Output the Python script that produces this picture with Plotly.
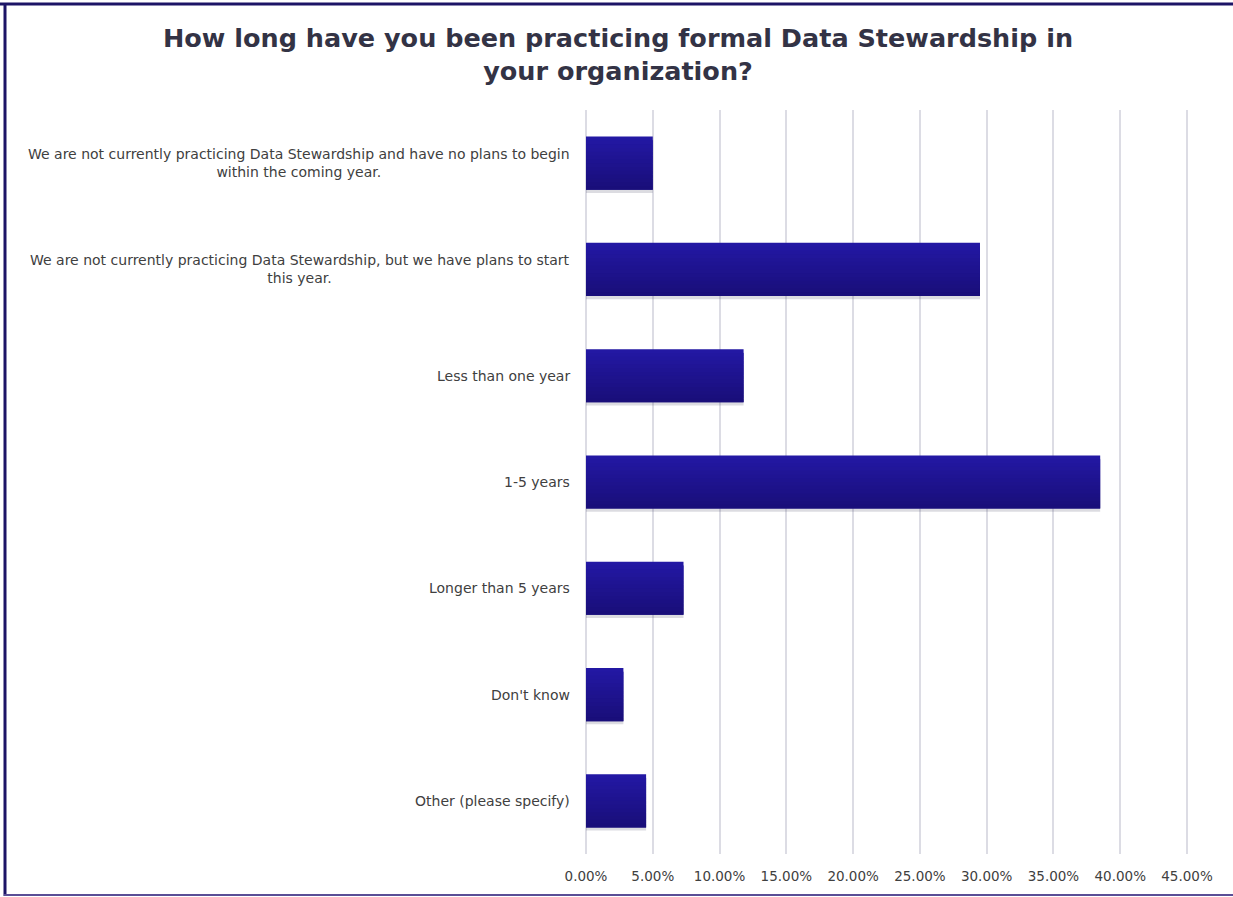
import plotly.graph_objects as go

categories = [
    "We are not currently practicing Data Stewardship and have no plans to begin<br>within the coming year.",
    "We are not currently practicing Data Stewardship, but we have plans to start<br>this year.",
    "Less than one year",
    "1-5 years",
    "Longer than 5 years",
    "Don't know",
    "Other (please specify)",
]
values = [0.050, 0.295, 0.118, 0.385, 0.073, 0.028, 0.045]
tick_vals = [0, 0.05, 0.10, 0.15, 0.20, 0.25, 0.30, 0.35, 0.40, 0.45]
tick_text = ["0.00%", "5.00%", "10.00%", "15.00%", "20.00%", "25.00%", "30.00%", "35.00%", "40.00%", "45.00%"]
title_text = "How long have you been practicing formal Data Stewardship in<br>your organization?"

W, H = 1233, 897
L, R, T, B = 586, 44, 110, 43
pw, ph = W - L - R, H - T - B

def px_x(x):
    return (x - L) / pw

def px_y(y):
    return 1 - (y - T) / ph

fig = go.Figure()

# faint shadow below the bars
fig.add_trace(go.Bar(
    y=categories, x=values, orientation="h", width=0.5, offset=-0.22,
    marker=dict(color="rgba(60,60,90,0.18)", line=dict(width=0)), hoverinfo="skip",
))

# vertical gradient built from overlapping strips (each covered by the next)
top_rgb = (0x23, 0x18, 0xa3)
bot_rgb = (0x19, 0x0e, 0x7a)
n = 14
bw = 0.5
step = bw / n
for i in range(n):
    t = i / (n - 1)
    col = "rgb(%d,%d,%d)" % tuple(round(a + (b - a) * t) for a, b in zip(top_rgb, bot_rgb))
    w = step * 2 if i < n - 1 else step
    fig.add_trace(go.Bar(
        y=categories, x=values, orientation="h",
        width=w, offset=-bw / 2 + i * step,
        marker=dict(color=col, line=dict(width=0)),
        hoverinfo="x+y" if i == 0 else "skip",
    ))

annotations = []
for c in categories:
    annotations.append(dict(
        x=0, y=c, xref="paper", yref="y", text=c, showarrow=False,
        xanchor="right", align="center", xshift=-14,
        font=dict(family="DejaVu Sans", size=14, color="#404040"),
    ))
annotations.append(dict(
    x=px_x(618), xref="paper", y=px_y(55), yref="paper",
    text="<b>" + title_text.replace("<br>", "</b><br><b>") + "</b>",
    showarrow=False, xanchor="center", yanchor="middle", align="center",
    font=dict(family="DejaVu Sans", size=25.5, color="#333345"),
))

shapes = [
    dict(type="line", xref="paper", yref="paper", x0=px_x(0), x1=px_x(W), y0=px_y(4), y1=px_y(4),
         line=dict(color="#1c1466", width=3)),
    dict(type="line", xref="paper", yref="paper", x0=px_x(5), x1=px_x(5), y0=px_y(3), y1=px_y(896),
         line=dict(color="#1c1466", width=3)),
    dict(type="line", xref="paper", yref="paper", x0=px_x(4), x1=px_x(W), y0=px_y(895), y1=px_y(895),
         line=dict(color="#5a4e96", width=2)),
]

fig.update_layout(
    width=W, height=H,
    margin=dict(l=L, r=R, t=T, b=B),
    paper_bgcolor="white", plot_bgcolor="white",
    showlegend=False,
    barmode="overlay",
    xaxis=dict(range=[0, 0.4515], tickvals=tick_vals, ticktext=tick_text,
               showgrid=True, gridcolor="#dcdce4", gridwidth=1.5,
               zeroline=True, zerolinecolor="#dcdce4", zerolinewidth=1.5,
               showline=False, ticks="", ticklabelstandoff=12,
               tickfont=dict(family="DejaVu Sans", size=13.5, color="#404040"), fixedrange=True),
    yaxis=dict(categoryorder="array", categoryarray=categories, autorange="reversed",
               showticklabels=False, showgrid=False, zeroline=False, showline=False,
               ticks="", fixedrange=True),
    annotations=annotations,
    shapes=shapes,
)

fig.write_html("out.html")
